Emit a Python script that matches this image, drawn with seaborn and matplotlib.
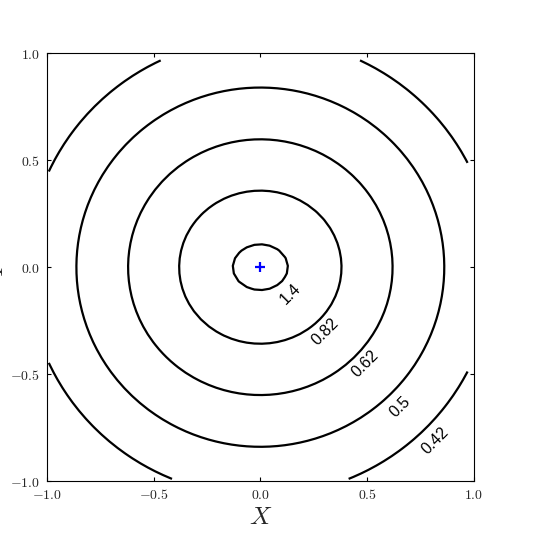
import numpy as np
import matplotlib
matplotlib.use("Agg")
import matplotlib.pyplot as plt
import seaborn as sns

# ------------------------------------------------------------
# data
# ------------------------------------------------------------
levels = [1.4, 0.82, 0.62, 0.5, 0.42]
level_labels = ["1.4", "0.82", "0.62", "0.5", "0.42"]
# half width / half height of each contour (data units)
radius_x = [0.129, 0.380, 0.619, 0.861, 1.09]
radius_y = [0.107, 0.358, 0.598, 0.840, 1.07]
# where the level labels sit
label_x = [0.143, 0.302, 0.489, 0.652, 0.817]
label_y = [-0.126, -0.302, -0.453, -0.653, -0.812]
centre_x = [0.0]
centre_y = [0.0]
ticks = [-1.0, -0.5, 0.0, 0.5, 1.0]

# ------------------------------------------------------------
# style
# ------------------------------------------------------------
sns.set_style("ticks", rc={
    "xtick.direction": "in", "ytick.direction": "in",
    "xtick.top": True, "ytick.right": True,
    "axes.edgecolor": "black", "axes.linewidth": 1.0,
})
plt.rcParams["mathtext.fontset"] = "cm"
plt.rcParams["font.family"] = ["Liberation Sans", "DejaVu Sans"]

fig = plt.figure(figsize=(5.38, 5.35), dpi=100)
ax = fig.add_axes([0.0868, 0.1009, 0.7942, 0.7994])

# coarse grid, same as the original (stops a bit short of the frame)
gx = np.linspace(-0.99, 0.97, 56)
gy = np.linspace(-0.99, 0.967, 56)
X, Y = np.meshgrid(gx, gy)

for lev, rx, ry in zip(levels, radius_x, radius_y):
    Z = np.hypot(X / rx, Y / ry)
    ax.contour(X, Y, Z, levels=[1.0], colors="black", linewidths=1.6)

for txt, lx, ly in zip(level_labels, label_x, label_y):
    ax.text(lx, ly, txt, fontsize=11.5, rotation=45, rotation_mode="anchor",
            ha="center", va="center", color="black")

sns.scatterplot(x=centre_x, y=centre_y, marker="+", s=60, color="blue",
                linewidth=1.6, ax=ax, legend=False)

ax.set_xlim(-1, 1)
ax.set_ylim(-1, 1)
ax.set_xticks(ticks)
ax.set_yticks(ticks)
ax.set_xticklabels([f"${t:.1f}$" for t in ticks])
ax.set_yticklabels([f"${t:.1f}$" for t in ticks])
ax.tick_params(length=3, width=0.8, labelsize=10, pad=5, color="black")
ax.set_xlabel("$X$", fontsize=18, labelpad=2)
ax.set_ylabel("$Y$", fontsize=18, labelpad=1, rotation=90)

fig.savefig("out.png", dpi=100)
